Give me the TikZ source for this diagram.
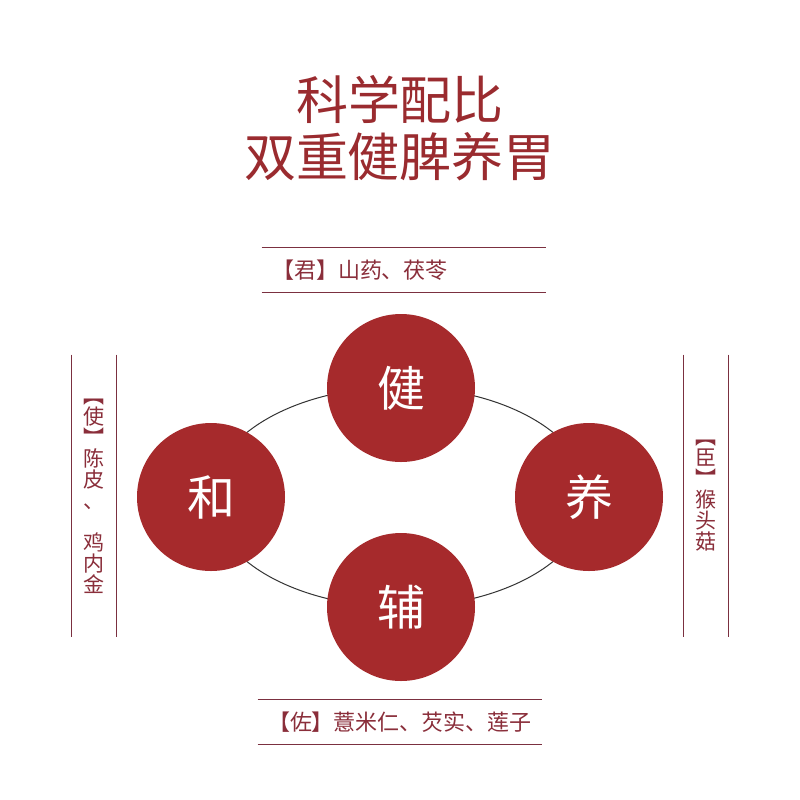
\documentclass[tikz,border=0pt]{standalone}
\usepackage{fontspec}
\usepackage{xcolor}
\usepackage{tikz}
\usetikzlibrary{positioning, backgrounds}
\newfontfamily\cjk{Noto Sans CJK SC}
\definecolor{hpred}{HTML}{A62A2C}
\definecolor{hptitle}{HTML}{9A2B2F}
\definecolor{hpink}{HTML}{8A2E3A}
\definecolor{hprule}{HTML}{7B3040}

\begin{document}
\begin{tikzpicture}[
  x=0.5pt, y=-0.5pt,
  disc/.style={circle, fill=hpred, minimum size=74pt, inner sep=0pt, text=white, font=\cjk\fontsize{24}{24}\selectfont},
  ring/.style={draw=black!80, line width=0.5pt},
  rule/.style={draw=hprule, line width=0.6pt},
  tagh/.style={minimum height=22pt, inner xsep=5pt, inner ysep=0pt, text width=132pt, align=left, text=hpink, font=\cjk\fontsize{11}{11}\selectfont},
  tagv/.style={minimum width=22pt, minimum height=141pt, inner sep=0pt, align=center, text=hpink, font=\cjk\fontsize{10.5}{10.5}\selectfont},
  headline/.style={align=center, text=hptitle, font=\cjk\fontsize{26}{28.5}\selectfont}
]
  \useasboundingbox[fill=white] (0,0) rectangle (800,800);

  \node[headline] (title) at (400,128) {科学配比\\双重健脾养胃};

  % ring behind the four discs
  \coordinate (hub) at (400,497);
  \draw[ring] (hub) ellipse [x radius=94.5pt, y radius=55pt];

  \node[disc] (jian) at (401,388) {健};
  \node[disc] (he) at (211,497) {和};
  \node[disc] (yang) at (589,497) {养};
  \node[disc] (fu) at (401,607) {辅};

  % herb tags
  \node[tagh] (jun) at (404,270) {【君】山药、茯苓};
  \node[tagh] (zuo) at (400,722) {【佐】薏米仁、芡实、莲子};
  \node[tagv] (shi) at (94,496) {︻\\使\\︼\\陈\\皮\\、\\[10.5pt]鸡\\内\\金};
  \node[tagv] (chen) at (706,496) {︻\\臣\\︼\\猴\\头\\菇};

  \draw[rule] (jun.north west) -- (jun.north east);
  \draw[rule] (jun.south west) -- (jun.south east);
  \draw[rule] (zuo.north west) -- (zuo.north east);
  \draw[rule] (zuo.south west) -- (zuo.south east);
  \draw[rule] (shi.north west) -- (shi.south west);
  \draw[rule] (shi.north east) -- (shi.south east);
  \draw[rule] (chen.north west) -- (chen.south west);
  \draw[rule] (chen.north east) -- (chen.south east);
\end{tikzpicture}
\end{document}
